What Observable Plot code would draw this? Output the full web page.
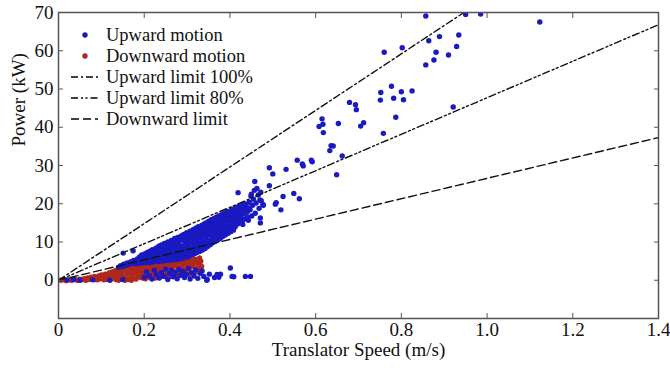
<!DOCTYPE html>
<html><head><meta charset="utf-8">
<script src="https://cdn.jsdelivr.net/npm/d3@7"></script>
<script src="https://cdn.jsdelivr.net/npm/@observablehq/plot@0.6"></script>
<style>body{margin:0;background:#fff} svg{display:block}</style>
</head><body><div id="chart"></div>
<script>
const xTicks = [0, 0.2, 0.4, 0.6, 0.8, 1.0, 1.2, 1.4];
const yTicks = [0, 10, 20, 30, 40, 50, 60, 70];
const limitSpeed = [0, 1.4];
const upLimit100 = [0, 103.6];
const upLimit80 = [0, 66.8];
const downLimit = [0, 37.3];

const upwardScatter = [
[0.857,69.1],[0.950,69.5],[0.985,69.6],[1.123,67.5],[0.864,62.6],[0.889,63.7],[0.934,64.1],
[0.802,60.8],[0.760,59.6],[0.881,59.6],[0.910,58.9],[0.929,61.1],[0.876,57.6],[0.857,56.3],
[0.777,50.7],[0.825,49.5],[0.800,49.3],[0.752,49.1],[0.751,47.1],[0.782,47.6],[0.805,47.2],
[0.679,46.5],[0.693,45.9],[0.695,44.6],[0.921,45.3],[0.787,42.6],[0.615,42.2],[0.617,40.8],
[0.608,40.2],[0.653,41.0],[0.712,41.2],[0.705,40.3],[0.618,38.6],[0.758,38.4],[0.636,35.2],
[0.641,35.1],[0.633,33.9],[0.662,32.5],[0.649,27.6],[0.557,31.4],[0.569,30.4],[0.571,29.9],
[0.590,31.4],[0.592,31.0],[0.531,29.0],[0.492,29.4],[0.500,27.8],[0.492,24.7],[0.458,25.8],
[0.419,22.9],[0.549,22.7],[0.524,21.9],[0.562,21.3],[0.508,20.3],[0.519,18.4],[0.473,20.8],
[0.477,19.8],[0.151,7.1],[0.174,7.7],[0.471,15.0],[0.471,16.3],[0.506,19.9],[0.450,22.5]
];

const upwardBand = [
[0.140,3.4],[0.145,3.8],[0.150,3.6],[0.152,4.2],[0.158,3.9],[0.160,4.5],
[0.165,4.1],[0.168,4.8],[0.172,4.4],[0.175,5.2],[0.178,4.6],
[0.182,4.9],[0.184,5.6],[0.187,4.7],[0.189,6.1],[0.191,5.3],[0.194,6.6],
[0.197,5.0],[0.199,5.8],[0.201,6.9],[0.203,5.4],[0.205,6.3],[0.207,7.3],
[0.209,5.2],[0.211,6.0],[0.213,7.6],[0.215,6.7],[0.217,5.6],[0.219,8.0],
[0.221,6.4],[0.223,7.2],[0.225,5.5],[0.227,8.4],[0.229,6.9],[0.230,7.8],
[0.232,5.8],[0.234,8.9],[0.236,7.4],[0.238,6.3],[0.240,9.2],[0.242,8.1],[0.243,5.9],
[0.245,6.8],[0.247,9.6],[0.249,7.7],[0.251,8.7],[0.253,6.2],[0.255,10.0],[0.256,7.2],
[0.258,9.1],[0.260,8.0],[0.262,6.6],[0.263,10.4],[0.265,7.5],[0.266,9.5],[0.268,8.5],
[0.270,6.9],[0.271,10.9],[0.273,9.8],[0.275,7.8],[0.276,8.9],[0.278,11.2],[0.279,7.2],
[0.281,10.2],[0.282,9.3],[0.284,8.2],[0.286,11.6],[0.287,7.6],[0.289,10.6],[0.290,9.0],
[0.292,12.0],[0.293,8.5],[0.295,11.1],[0.296,7.9],[0.298,9.8],[0.299,12.4],[0.301,10.5],[0.302,8.8],
[0.304,11.6],[0.305,9.4],[0.307,12.8],[0.308,8.3],[0.310,10.9],[0.311,12.1],[0.313,9.9],[0.314,13.2],
[0.316,8.7],[0.317,11.4],[0.319,10.3],[0.320,13.6],[0.322,12.5],[0.323,9.2],[0.325,11.8],[0.326,14.0],
[0.328,10.7],[0.329,13.0],[0.331,9.6],[0.332,12.2],[0.334,14.3],[0.335,11.1],[0.337,13.5],[0.338,10.1],
[0.340,14.7],[0.341,12.6],[0.343,11.5],[0.344,15.0],[0.346,13.9],[0.347,10.6],[0.349,12.9],[0.350,15.4],
[0.352,11.9],[0.353,14.2],[0.355,13.3],[0.356,15.8],[0.358,11.2],[0.359,14.6],[0.361,12.4],[0.362,16.1],
[0.364,13.7],[0.365,15.1],[0.367,11.8],[0.368,16.5],[0.370,14.0],[0.371,12.8],[0.373,15.5],[0.374,16.8],
[0.376,13.2],[0.377,14.5],[0.379,17.1],[0.380,12.3],[0.382,15.9],[0.383,13.6],[0.385,17.4],[0.386,14.9],
[0.388,16.3],[0.389,12.9],[0.391,17.7],[0.392,15.3],[0.394,14.0],[0.395,18.0],[0.397,16.6],[0.398,13.4],
[0.400,17.2],[0.401,15.6],[0.403,18.3],[0.404,14.4],[0.406,16.9],[0.407,18.6],[0.409,15.0],[0.410,17.6],
[0.412,13.9],[0.413,18.9],[0.415,16.2],[0.416,17.9],[0.418,14.7],[0.419,19.2],[0.421,16.7],[0.422,18.2],
[0.424,15.3],[0.426,19.5],[0.428,17.3],[0.430,14.6],[0.432,18.6],[0.434,20.0],[0.436,16.1],[0.438,19.0],
[0.440,17.8],[0.443,15.7],[0.445,20.4],[0.447,18.4],[0.449,22.0],[0.451,16.8],[0.453,19.6],[0.455,21.2],
[0.457,23.5],[0.459,17.5],[0.461,20.2],[0.463,24.0],[0.466,22.3],[0.468,18.8],[0.470,21.0],[0.478,19.6],
[0.472,23.0]
];

const upwardBandLower = [
[0.180,4.3],[0.186,4.4],[0.192,4.5],[0.196,4.6],[0.202,4.6],[0.206,4.7],[0.212,4.6],[0.216,4.8],[0.220,4.8],
[0.224,4.9],[0.228,5.2],[0.233,4.9],[0.237,5.4],[0.241,5.0],[0.244,5.3],[0.248,5.1],[0.252,5.6],[0.257,5.2],
[0.261,5.8],[0.264,5.3],[0.268,6.0],[0.271,5.4],[0.275,6.2],[0.278,5.5],[0.282,6.5],[0.285,5.6],[0.289,6.8],
[0.292,5.8],[0.296,6.9],[0.300,6.1],[0.303,7.2],[0.306,6.4],[0.309,7.4],[0.312,6.7],[0.315,7.6],[0.318,7.0],
[0.321,8.1],[0.324,7.3],[0.327,8.4],[0.330,7.6],[0.333,8.9],[0.336,7.9],[0.339,9.2],[0.342,8.3],[0.345,9.6],
[0.348,8.8],[0.351,10.1],[0.354,9.3],[0.357,10.4],[0.360,9.8],[0.363,10.8],[0.366,10.2],[0.369,11.2],[0.372,10.6],
[0.375,11.6],[0.378,11.0],[0.381,12.0],[0.384,11.5],[0.387,12.4],[0.390,11.9],[0.393,12.8],[0.396,12.3],[0.399,13.2],
[0.402,12.7],[0.405,13.6],[0.408,13.1],[0.411,14.0]
];

const upwardBandMid = [
[0.204,6.0],[0.214,6.3],[0.224,6.8],[0.233,7.7],[0.244,8.4],[0.254,8.3],[0.259,7.0],[0.267,7.9],[0.274,9.1],
[0.277,10.2],[0.283,10.8],[0.288,8.6],[0.294,10.2],[0.297,11.6],[0.303,9.7],[0.306,10.8],[0.309,11.9],[0.315,10.5],
[0.318,12.7],[0.321,9.9],[0.327,11.3],[0.330,12.6],[0.333,10.4],[0.336,13.6],[0.339,12.0],[0.345,11.9],[0.348,14.4],
[0.351,13.0],[0.354,12.5],[0.357,14.8],[0.360,13.6],[0.363,15.4],[0.366,12.6],[0.369,14.9],[0.372,16.2],[0.375,14.2],
[0.378,12.9],[0.381,16.6],[0.384,15.2],[0.387,13.9],[0.390,16.9],[0.393,14.7],[0.396,17.3],[0.399,15.9],[0.402,14.1],
[0.405,17.8],[0.408,16.2],[0.411,18.1],[0.414,15.5],[0.417,17.0],[0.420,15.9],[0.423,17.6],[0.426,16.4],[0.429,18.9],
[0.431,15.8],[0.434,17.5],[0.437,19.8],[0.441,16.5],[0.444,18.9]
];

const upwardLow = [
[0.020,0.1],[0.035,0.2],[0.050,0.0],[0.080,0.1],[0.120,0.0],[0.150,0.2],
[0.200,0.8],[0.205,2.2],[0.212,1.2],[0.218,0.3],[0.224,2.6],[0.228,1.5],[0.235,0.6],[0.240,2.0],
[0.246,1.0],[0.250,2.9],[0.255,0.2],[0.259,1.7],[0.263,2.6],[0.268,0.9],[0.272,1.9],[0.277,0.4],
[0.281,2.8],[0.285,1.3],[0.290,2.3],[0.294,0.7],[0.298,1.6],[0.303,3.1],[0.307,0.3],[0.311,2.0],
[0.316,1.1],[0.320,2.7],[0.325,0.5],[0.330,1.8],[0.335,2.4],[0.339,1.0],[0.347,0.2],[0.352,1.6],
[0.364,0.7],[0.370,1.5],[0.374,0.8],[0.378,1.6],[0.401,3.2],[0.405,1.0],[0.409,0.9],[0.436,1.0],
[0.448,1.0],[0.346,0.0]
];

const downward = [
[0.005,0.0],[0.012,0.1],[0.018,-0.1],[0.025,0.1],[0.031,0.0],[0.038,0.2],[0.044,0.0],[0.050,0.3],
[0.055,0.1],[0.060,0.4],[0.064,0.0],[0.068,0.6],[0.072,0.2],[0.076,0.8],[0.080,0.3],[0.084,1.0],[0.088,0.1],[0.090,0.6],
[0.094,1.1],[0.097,0.4],[0.100,1.4],[0.103,0.8],[0.106,0.1],[0.109,1.6],[0.112,1.0],[0.115,0.4],[0.118,1.9],[0.120,1.3],
[0.123,0.3],[0.125,2.2],[0.127,0.9],[0.130,1.6],[0.132,2.5],[0.134,0.2],[0.137,1.9],[0.139,0.8],[0.141,2.8],[0.143,1.4],[0.146,0.3],[0.148,2.2],[0.150,3.0],[0.152,1.1],
[0.155,2.6],[0.157,0.5],[0.159,3.3],[0.161,1.7],[0.163,0.2],[0.165,2.9],[0.167,3.6],[0.169,1.2],[0.171,2.3],[0.173,0.6],[0.175,3.8],[0.177,1.8],[0.179,3.0],
[0.181,0.3],[0.183,2.5],[0.185,4.0],[0.187,1.4],[0.189,3.4],[0.191,0.8],[0.193,2.1],[0.195,4.2],[0.197,2.9],[0.199,1.6],[0.201,3.7],[0.203,0.4],[0.205,4.3],[0.207,2.5],
[0.209,3.3],[0.211,1.9],[0.213,4.4],[0.215,3.0],[0.218,4.0],[0.220,2.4],[0.222,3.6],[0.225,4.6],[0.227,1.7],[0.229,3.2],[0.232,4.2],[0.234,2.6],[0.236,4.7],[0.239,3.5],[0.241,1.9],[0.243,4.4],[0.246,3.0],[0.248,4.8],
[0.251,2.3],[0.253,3.9],[0.255,4.9],[0.258,3.3],[0.260,1.8],[0.262,4.5],[0.265,2.8],[0.267,5.0],[0.269,3.7],[0.272,4.4],[0.274,2.3],[0.276,5.1],[0.279,3.4],[0.281,4.7],[0.283,1.6],[0.286,5.2],[0.288,3.0],[0.290,4.2],
[0.293,5.3],[0.295,2.4],[0.297,4.0],[0.300,5.0],[0.302,3.4],[0.305,5.5],[0.307,4.3],[0.309,2.1],[0.312,5.2],[0.314,3.7],[0.317,5.6],[0.319,4.6],[0.322,3.0],[0.324,5.4],[0.327,4.2],[0.329,5.8],[0.332,5.0],[0.334,3.6]
];

const downwardFill = [
[0.140,0.0],[0.155,0.0],[0.170,0.0],[0.185,1.0],[0.190,2.0],[0.198,0.5],[0.206,1.4],[0.214,0.7],[0.219,1.5],
[0.226,0.6],[0.231,2.6],[0.238,1.2],[0.244,2.2],[0.250,1.0],[0.256,3.8],[0.263,1.0],[0.270,2.0],[0.278,1.3],
[0.284,3.2],[0.291,1.5],[0.298,2.8],[0.304,1.4],[0.310,3.5],[0.318,2.0],[0.326,2.8],[0.331,3.9],[0.200,2.7],
[0.216,3.6],[0.228,3.9],[0.244,3.6],[0.257,4.4],[0.270,4.6],[0.284,4.9],[0.296,4.7],[0.310,4.9],[0.322,4.9],
[0.112,0.2],[0.128,1.4],[0.144,2.0],[0.160,2.4],[0.172,3.2],[0.180,3.6],[0.100,0.6],[0.092,0.2],[0.075,0.4],[0.062,0.2]
];

const legendLabels = ["Upward motion", "Downward motion", "Upward limit 100%", "Upward limit 80%", "Downward limit"];

const BLUE = "#1a1ac2";
const RED = "#b0281c";
const dash100 = "7,3,2,3";
const dash80 = "7,3,2,2.5,2,3";
const dashDown = "8,4";
const FONT = "'Liberation Serif', 'Times New Roman', serif";

const lineRows = limitSpeed.map((s, i) => ({speed: s, up100: upLimit100[i], up80: upLimit80[i], down: downLimit[i]}));
const upwardAll = upwardLow.concat(upwardBandLower, upwardBand, upwardBandMid, upwardScatter);
const downwardAll = downward.concat(downwardFill);

function legendMark(index, scales, values, dimensions) {
  const ns = "http://www.w3.org/2000/svg";
  const g = document.createElementNS(ns, "g");
  const x0 = dimensions.marginLeft, y0 = dimensions.marginTop;
  const styles = [{dot: BLUE}, {dot: RED}, {dash: dash100}, {dash: dash80}, {dash: dashDown}];
  legendLabels.forEach((lab, i) => {
    const cy = y0 + 23 + i * 21;
    const st = styles[i];
    if (st.dot) {
      const c = document.createElementNS(ns, "circle");
      c.setAttribute("cx", x0 + 27); c.setAttribute("cy", cy); c.setAttribute("r", 2.7);
      c.setAttribute("fill", st.dot);
      g.appendChild(c);
    } else {
      const l = document.createElementNS(ns, "line");
      l.setAttribute("x1", x0 + 13); l.setAttribute("x2", x0 + 40);
      l.setAttribute("y1", cy); l.setAttribute("y2", cy);
      l.setAttribute("stroke", "#000"); l.setAttribute("stroke-width", 1.4);
      l.setAttribute("stroke-dasharray", st.dash);
      g.appendChild(l);
    }
    const t = document.createElementNS(ns, "text");
    t.setAttribute("x", x0 + 48); t.setAttribute("y", cy);
    t.setAttribute("dy", "0.35em");
    t.setAttribute("text-anchor", "start");
    t.setAttribute("font-size", 18.5);
    t.setAttribute("font-family", FONT);
    t.setAttribute("fill", "#111");
    t.textContent = lab;
    g.appendChild(t);
  });
  return g;
}

const chart = Plot.plot({
  width: 670,
  height: 371,
  marginLeft: 58,
  marginRight: 12,
  marginTop: 12,
  marginBottom: 53,
  style: {fontFamily: FONT, fontSize: "18px", background: "#fff", color: "#111"},
  x: {domain: [0, 1.4]},
  y: {domain: [-10, 70]},
  marks: [
    Plot.dot(downwardAll, {x: d => d[0], y: d => d[1], r: 2.7, fill: RED, clip: true}),
    Plot.dot(upwardAll, {x: d => d[0], y: d => d[1], r: 2.7, fill: BLUE, clip: true}),
    Plot.line(lineRows, {x: "speed", y: "up100", stroke: "#111", strokeWidth: 1.4, strokeDasharray: dash100, clip: true}),
    Plot.line(lineRows, {x: "speed", y: "up80", stroke: "#111", strokeWidth: 1.4, strokeDasharray: dash80, clip: true}),
    Plot.line(lineRows, {x: "speed", y: "down", stroke: "#111", strokeWidth: 1.4, strokeDasharray: dashDown, clip: true}),
    Plot.axisX(xTicks, {anchor: "bottom", tickSize: 0, tickPadding: 4, tickFormat: d => d === 0 ? "0" : d.toFixed(1), label: null, fontSize: 19}),
    Plot.axisX(xTicks, {anchor: "bottom", tickSize: -5, text: null, label: null, stroke: "#555"}),
    Plot.axisX(xTicks, {anchor: "top", tickSize: -5, text: null, label: null, stroke: "#555"}),
    Plot.axisY(yTicks, {anchor: "left", tickSize: 0, tickPadding: 5, label: null, fontSize: 19}),
    Plot.axisY(yTicks, {anchor: "left", tickSize: -5, text: null, label: null, stroke: "#555"}),
    Plot.axisY(yTicks, {anchor: "right", tickSize: -5, text: null, label: null, stroke: "#555"}),
    Plot.frame({stroke: "#555", strokeWidth: 1.5}),
    Plot.text(["Translator Speed (m/s)"], {frameAnchor: "bottom", dy: 37, fontSize: 19, fill: "#111"}),
    Plot.text(["Power (kW)"], {frameAnchor: "left", rotate: -90, dx: -40, dy: -19, fontSize: 19, fill: "#111"}),
    legendMark
  ]
});
document.getElementById("chart").appendChild(chart);
</script>
</body></html>
